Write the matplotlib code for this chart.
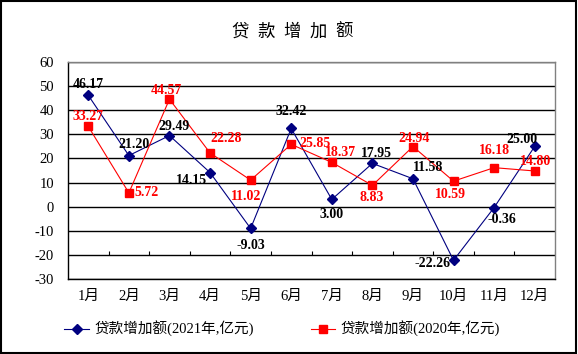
import numpy as np
import matplotlib.pyplot as plt
from matplotlib.patches import Rectangle

# data
months = ['1月', '2月', '3月', '4月', '5月', '6月', '7月', '8月', '9月', '10月', '11月', '12月']
loan_2021 = [46.17, 21.20, 29.49, 14.15, -9.03, 32.42, 3.00, 17.95, 11.58, -22.26, -0.36, 25.00]
loan_2020 = [33.27, 5.72, 44.57, 22.28, 11.02, 25.85, 18.37, 8.83, 24.94, 10.59, 16.18, 14.80]
name_2021 = '贷款增加额(2021年,亿元)'
name_2020 = '贷款增加额(2020年,亿元)'
title_chars = ['贷', '款', '增', '加', '额']

# label offsets in pixels (dx, dy)
off_2021 = [(0, 11), (5, 11), (5, 9), (-19, -8), (0, -17), (0, 17),
            (0, -15), (4, 10), (15, 11), (-21, -3), (8, -12), (-13, 7)]
off_2020 = [(0, 10), (18, 0), (-3, 9), (16, 14), (-4, -16), (24, 1),
            (9, 10), (-1, -12), (1, 8), (-3, -13), (0, 17), (1, 9)]

fam = ['Liberation Serif', 'Noto Sans CJK SC']
plt.rcParams['font.family'] = fam
plt.rcParams['axes.unicode_minus'] = False

fig = plt.figure(figsize=(5.78, 3.54), dpi=100)
ax = fig.add_axes([68/578, 1-279/354, (555-68)/578, (279-62)/354])

x = np.arange(len(months))
l1, = ax.plot(x, loan_2021, color='#000080', lw=0.8, marker='D', ms=5, mfc='#000080', mec='#000080')
l2, = ax.plot(x, loan_2020, color='#ff0000', lw=0.8, marker='s', ms=6, mfc='#ff0000', mec='#ff0000')

for xi, v, (dx, dy) in zip(x, loan_2021, off_2021):
    ax.annotate('%.2f' % v, (xi, v), xytext=(dx, dy), textcoords='offset pixels',
                ha='center', va='center', fontsize=10, fontweight='bold', color='black')
for xi, v, (dx, dy) in zip(x, loan_2020, off_2020):
    ax.annotate('%.2f' % v, (xi, v), xytext=(dx, dy), textcoords='offset pixels',
                ha='center', va='center', fontsize=10, fontweight='bold', color='#ff0000')

ax.set_xlim(-0.5, len(months) - 0.5)
ax.set_ylim(-30, 60)
ax.set_yticks(np.arange(-30, 61, 10))
ax.yaxis.grid(True, color='black', lw=1.0)
ax.set_axisbelow(True)
ax.set_xticks(x)
ax.set_xticklabels(months)
ax.tick_params(axis='both', length=0, labelsize=10.5)
ax.tick_params(axis='y', pad=10)
ax.tick_params(axis='x', pad=8)

# small category ticks on the -20 line
ax.vlines(x + 0.5, -20, -18.3, color='black', lw=0.8)

for s in ['left', 'bottom']:
    ax.spines[s].set_color('black')
    ax.spines[s].set_linewidth(1.0)
for s in ['top', 'right']:
    ax.spines[s].set_color('#808080')
    ax.spines[s].set_linewidth(1.0)

# title, spaced characters
for i, ch in enumerate(title_chars):
    fig.text((240 + i*26)/578, 1-32/354, ch, ha='center', va='center',
             fontsize=12.5, family='Noto Sans CJK SC', fontweight='light')

fig.legend([l1, l2], [name_2021, name_2020], loc='center', ncol=2,
           bbox_to_anchor=(282/578, 25/354), frameon=False,
           prop={'family': fam, 'size': 10.5}, handlelength=1.7,
           handletextpad=0.35, columnspacing=3.9)

fig.patches.append(Rectangle((0.002, 0.002), 0.995, 0.994, transform=fig.transFigure,
                             fill=False, edgecolor='black', lw=1.5))

fig.savefig('out.png', dpi=100)
